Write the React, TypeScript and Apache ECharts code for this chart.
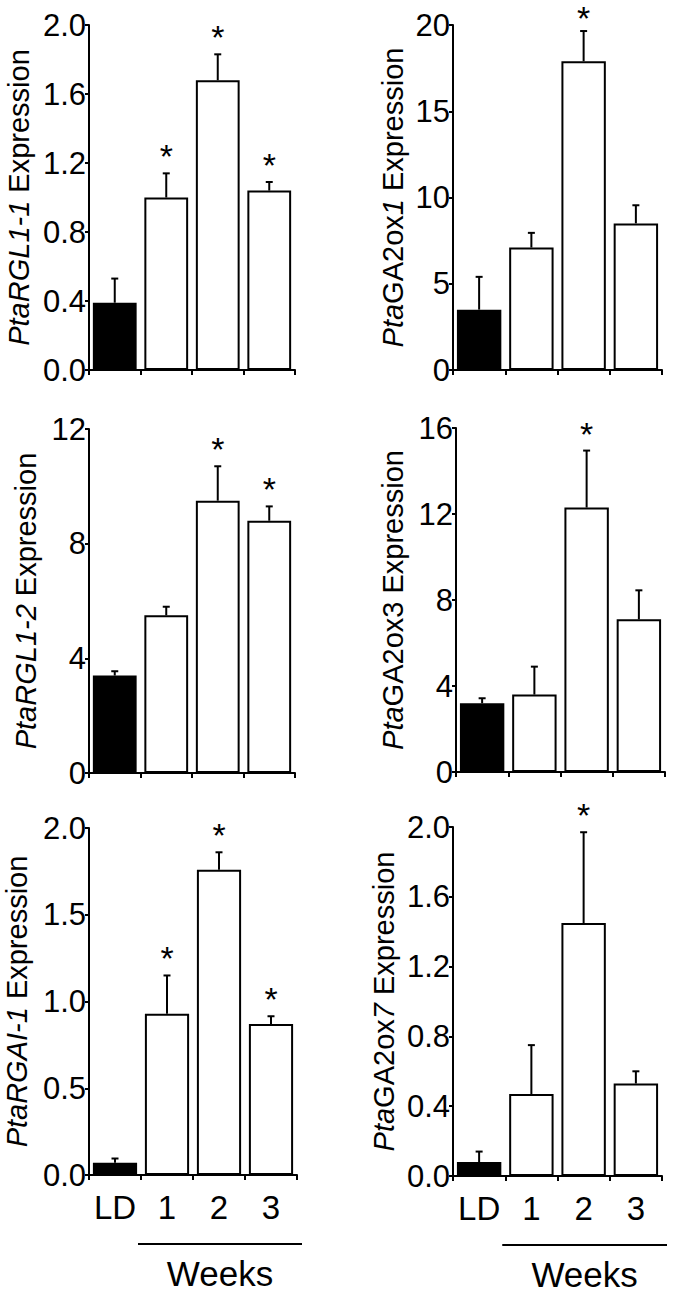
import React, { useEffect, useRef } from "react";
import * as echarts from "echarts";

// ---- data ----
const categories = ["LD", "1", "2", "3"];

const rgl11Values = [0.39, 1.0, 1.68, 1.04];
const rgl11Errors = [0.14, 0.14, 0.15, 0.05];
const rgl11Sig = [0, 1, 1, 1];

const ga2ox1Values = [3.5, 7.1, 17.9, 8.5];
const ga2ox1Errors = [1.9, 0.85, 1.75, 1.05];
const ga2ox1Sig = [0, 0, 1, 0];

const rgl12Values = [3.4, 5.5, 9.5, 8.8];
const rgl12Errors = [0.15, 0.3, 1.2, 0.5];
const rgl12Sig = [0, 0, 1, 1];

const ga2ox3Values = [3.2, 3.6, 12.3, 7.1];
const ga2ox3Errors = [0.23, 1.3, 2.65, 1.35];
const ga2ox3Sig = [0, 0, 1, 0];

const rgai1Values = [0.07, 0.93, 1.76, 0.87];
const rgai1Errors = [0.025, 0.22, 0.1, 0.045];
const rgai1Sig = [0, 1, 1, 1];

const ga2ox7Values = [0.08, 0.47, 1.45, 0.53];
const ga2ox7Errors = [0.06, 0.28, 0.52, 0.07];
const ga2ox7Sig = [0, 0, 1, 0];

const yMax = [2.0, 20, 12, 16, 2.0, 2.0];
const yInterval = [0.4, 5, 4, 4, 0.5, 0.4];
const yDecimals = [1, 0, 0, 0, 1, 1];

const yNames = [
  "{i|PtaRGL1-1} {n|Expression}",
  "{i|Pta}{n|GA2ox}{i|1} {n|Expression}",
  "{i|PtaRGL1-2} {n|Expression}",
  "{i|Pta}{n|GA2ox3 Expression}",
  "{i|PtaRGAI-1} {n|Expression}",
  "{i|Pta}{n|GA2ox}{i|7} {n|Expression}",
];

const weeksLabel = "Weeks";

const panelValues = [rgl11Values, ga2ox1Values, rgl12Values, ga2ox3Values, rgai1Values, ga2ox7Values];
const panelErrors = [rgl11Errors, ga2ox1Errors, rgl12Errors, ga2ox3Errors, rgai1Errors, ga2ox7Errors];
const panelSig = [rgl11Sig, ga2ox1Sig, rgl12Sig, ga2ox3Sig, rgai1Sig, ga2ox7Sig];

// ---- layout ----
const grids = [
  { left: 89, top: 25, width: 206, height: 345 },
  { left: 453, top: 25, width: 209, height: 345 },
  { left: 89, top: 429, width: 206, height: 344 },
  { left: 456, top: 428, width: 209, height: 344 },
  { left: 89, top: 828, width: 208, height: 347 },
  { left: 453, top: 827, width: 209, height: 349 },
];
const nameGaps = [56, 46, 49, 49, 58, 55];

const FONT = "'Liberation Sans', Arial, Helvetica, sans-serif";

export default function App() {
  const ref = useRef<HTMLDivElement>(null);

  useEffect(() => {
    if (!ref.current) return;
    const chart = echarts.init(ref.current, null, { renderer: "svg" });

    const xAxis: any[] = [];
    const yAxis: any[] = [];
    const series: any[] = [];

    grids.forEach((g, p) => {
      const bottomRow = p >= 4;
      xAxis.push({
        type: "category",
        gridIndex: p,
        data: categories,
        axisLine: { show: true, lineStyle: { color: "#000", width: 2 } },
        axisTick: { show: true, length: 5, lineStyle: { color: "#000", width: 2 } },
        axisLabel: {
          show: bottomRow,
          interval: 0,
          hideOverlap: false,
          color: "#000",
          fontSize: 33,
          fontFamily: FONT,
          margin: 16,
        },
        splitLine: { show: false },
      });
      const dec = yDecimals[p];
      yAxis.push({
        type: "value",
        gridIndex: p,
        min: 0,
        max: yMax[p],
        interval: yInterval[p],
        name: yNames[p],
        nameLocation: "middle",
        nameRotate: 90,
        nameGap: nameGaps[p],
        nameTextStyle: {
          fontSize: 29,
          fontFamily: FONT,
          color: "#000",
          rich: {
            i: { fontSize: 29, fontFamily: FONT, fontStyle: "italic", color: "#000" },
            n: { fontSize: 29, fontFamily: FONT, color: "#000" },
          },
        },
        axisLine: { show: true, lineStyle: { color: "#000", width: 2 } },
        axisTick: { show: true, length: 4, lineStyle: { color: "#000", width: 2 } },
        axisLabel: {
          color: "#000",
          fontSize: 31,
          fontFamily: FONT,
          margin: 3,
          formatter: (v: number) => v.toFixed(dec),
        },
        splitLine: { show: false },
      });

      const vals = panelValues[p];
      const errs = panelErrors[p];
      const sig = panelSig[p];

      series.push({
        type: "bar",
        xAxisIndex: p,
        yAxisIndex: p,
        barWidth: "85%",
        data: vals.map((v, i) => ({
          value: v,
          itemStyle: {
            color: i === 0 ? "#000" : "#fff",
            borderColor: "#000",
            borderWidth: 2,
          },
        })),
      });

      series.push({
        type: "custom",
        xAxisIndex: p,
        yAxisIndex: p,
        z: 5,
        data: vals.map((v, i) => [i, v, errs[i], sig[i]]),
        encode: { x: 0, y: 1 },
        renderItem: (params: any, api: any) => {
          const i = api.value(0);
          const v = api.value(1);
          const e = api.value(2);
          const s = api.value(3);
          const base = api.coord([i, v]);
          const top = api.coord([i, v + e]);
          const children: any[] = [
            {
              type: "line",
              shape: { x1: base[0], y1: base[1], x2: top[0], y2: top[1] },
              style: { stroke: "#000", lineWidth: 2 },
            },
            {
              type: "line",
              shape: { x1: top[0] - 3.5, y1: top[1], x2: top[0] + 3.5, y2: top[1] },
              style: { stroke: "#000", lineWidth: 2 },
            },
          ];
          if (s) {
            children.push({
              type: "text",
              style: {
                text: "*",
                x: top[0],
                y: Math.max(top[1] - 17, 18),
                align: "center",
                verticalAlign: "middle",
                lineHeight: 16,
                fontSize: 34,
                fontFamily: FONT,
                fill: "#000",
              },
            });
          }
          return { type: "group", children };
        },
      });
    });

    const graphic: any[] = [];
    [grids[4], grids[5]].forEach((g) => {
      const cw = g.width / categories.length;
      const x1 = g.left + cw - 3;
      const x2 = g.left + g.width + 5;
      const y = g.top + g.height + 69;
      graphic.push({
        type: "line",
        shape: { x1, y1: y, x2, y2: y },
        style: { stroke: "#000", lineWidth: 2 },
      });
      graphic.push({
        type: "text",
        style: {
          text: weeksLabel,
          x: (x1 + x2) / 2,
          y: y + 29,
          align: "center",
          verticalAlign: "middle",
          fontSize: 35,
          fontFamily: FONT,
          fill: "#000",
        },
      });
    });

    chart.setOption({
      animation: false,
      backgroundColor: "#fff",
      grid: grids.map((g) => ({ ...g, containLabel: false })),
      xAxis,
      yAxis,
      series,
      graphic,
    });

    return () => chart.dispose();
  }, []);

  return (
    <div
      ref={ref}
      style={{ position: "absolute", left: 0, top: 0, width: 678, height: 1292, background: "#fff" }}
    />
  );
}
